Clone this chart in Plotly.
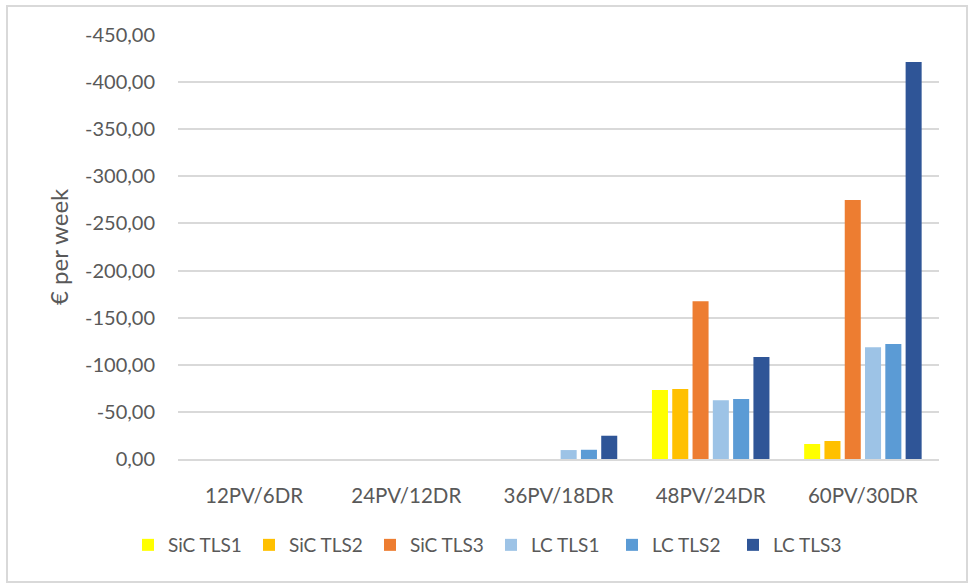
import plotly.graph_objects as go

categories = ["12PV/6DR", "24PV/12DR", "36PV/18DR", "48PV/24DR", "60PV/30DR"]
sic_tls1 = [0, 0, 0, -73.2, -15.9]
sic_tls2 = [0, 0, 0, -74.3, -19.1]
sic_tls3 = [0, 0, 0, -167.4, -275.0]
lc_tls1 = [0, 0, -9.5, -62.3, -118.6]
lc_tls2 = [0, 0, -9.8, -63.7, -122.0]
lc_tls3 = [0, 0, -24.7, -108.3, -421.4]
y_ticks = [0, -50, -100, -150, -200, -250, -300, -350, -400, -450]
y_tick_labels = ["0,00", "-50,00", "-100,00", "-150,00", "-200,00",
                 "-250,00", "-300,00", "-350,00", "-400,00", "-450,00"]

series = [
    ("SiC TLS1", sic_tls1, "#FFFF00"),
    ("SiC TLS2", sic_tls2, "#FFC000"),
    ("SiC TLS3", sic_tls3, "#ED7D31"),
    ("LC TLS1", lc_tls1, "#9DC3E6"),
    ("LC TLS2", lc_tls2, "#5B9BD5"),
    ("LC TLS3", lc_tls3, "#2F5597"),
]

FONT = "Lato"
TXT = "#595959"

fig = go.Figure()
for name, vals, col in series:
    fig.add_trace(go.Bar(x=categories, y=vals, name=name, marker=dict(color=col, line=dict(width=0))))

W, H = 969, 585
L, R, T, B = 178, W - 939, 35, H - 459
pw, ph = W - L - R, H - T - B

def px_x(x):
    return (x - L) / pw

def px_y(y):
    return (H - B - y) / ph

fig.update_layout(
    width=W, height=H,
    margin=dict(l=L, r=R, t=T, b=B, autoexpand=False),
    paper_bgcolor="white", plot_bgcolor="white",
    barmode="group", bargap=0.2, bargroupgap=0.21,
    font=dict(family=FONT, size=19, color=TXT),
    xaxis=dict(showgrid=False, showline=True, linecolor="#d9d9d9", linewidth=2, automargin=False,
               ticks="", ticklabelstandoff=17, tickfont=dict(size=20.5, color=TXT)),
    yaxis=dict(range=[0, -450], autorange=False, tickmode="array", tickvals=y_ticks,
               ticktext=y_tick_labels, automargin=False,
               showgrid=True, gridcolor="#d9d9d9", gridwidth=1.5, zeroline=False,
               showline=False, ticks="", ticklabelstandoff=22,
               tickfont=dict(size=20, color=TXT)),
    legend=dict(orientation="h", x=px_x(491), xanchor="center", y=px_y(545), yanchor="middle",
                entrywidth=76, itemwidth=30, font=dict(size=19, color=TXT), traceorder="normal"),
    shapes=[dict(type="rect", xref="paper", yref="paper",
                 x0=px_x(7), x1=px_x(967), y0=px_y(582), y1=px_y(6),
                 line=dict(color="#d9d9d9", width=2), fillcolor="rgba(0,0,0,0)", layer="below")],
    annotations=[dict(text="€ per week", xref="paper", yref="paper", x=px_x(58), y=px_y(247),
                      xanchor="center", yanchor="middle", textangle=-90, showarrow=False,
                      font=dict(size=24, color=TXT, family=FONT))],
)

fig.write_html("out.html", config={"displayModeBar": False},
               post_script="document.body.style.margin='0';")
